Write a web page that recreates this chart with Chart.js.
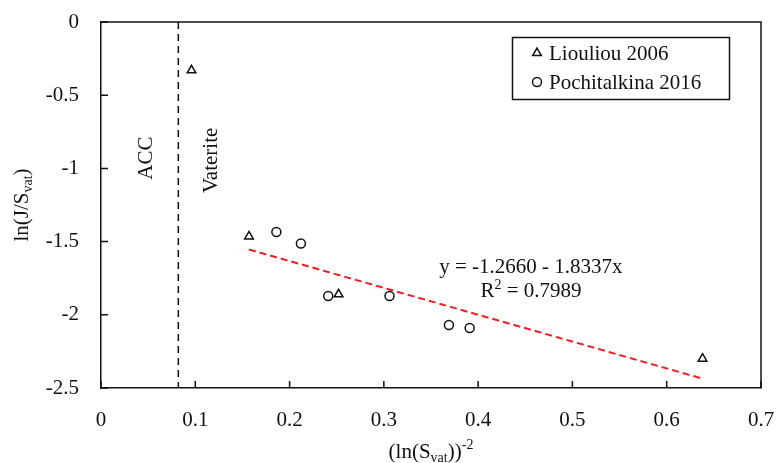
<!DOCTYPE html>
<html>
<head>
<meta charset="utf-8">
<script src="https://cdn.jsdelivr.net/npm/chart.js@4.4.0/dist/chart.umd.min.js"></script>
<style>
  html, body { margin: 0; padding: 0; background: #fff; }
  #wrap { width: 776px; height: 463px; }
</style>
</head>
<body>
<div id="wrap"><canvas id="c" width="776" height="463"></canvas></div>
<script>
// values
const liouliouX = [0.096, 0.157, 0.252, 0.638];
const liouliouY = [-0.33, -1.465, -1.86, -2.30];
const pochX = [0.186, 0.212, 0.241, 0.306, 0.369, 0.391];
const pochY = [-1.435, -1.513, -1.872, -1.872, -2.07, -2.09];
const fitX = [0.157, 0.638];
const fitY = [-1.554, -2.436];
const boundaryX = [0.082, 0.082];
const boundaryY = [0, -2.5];

const xTicks = [0, 0.1, 0.2, 0.3, 0.4, 0.5, 0.6, 0.7];
const xTickLabels = ['0', '0.1', '0.2', '0.3', '0.4', '0.5', '0.6', '0.7'];
const yTicks = [0, -0.5, -1, -1.5, -2, -2.5];
const yTickLabels = ['0', '-0.5', '-1', '-1.5', '-2', '-2.5'];

const seriesNames = ['Liouliou 2006', 'Pochitalkina 2016'];
const fitEquation = 'y = -1.2660 - 1.8337x';
const fitR2 = '0.7989';

const FONT = '"Liberation Serif", "Times New Roman", serif';
const INK = '#111';
const RED = '#f02020';

const pts = (xs, ys) => xs.map((x, i) => ({ x: x, y: ys[i] }));

function richText(ctx, parts, cx, base) {
  let w = 0;
  parts.forEach(p => { ctx.font = p.s + 'px ' + FONT; w += ctx.measureText(p.t).width; });
  let x = cx - w / 2;
  ctx.textAlign = 'left';
  ctx.textBaseline = 'alphabetic';
  parts.forEach(p => {
    ctx.font = p.s + 'px ' + FONT;
    ctx.fillText(p.t, x, base + (p.dy || 0));
    x += ctx.measureText(p.t).width;
  });
}

const extras = {
  id: 'extras',
  afterDraw(chart) {
    const ctx = chart.ctx;
    const a = chart.chartArea;
    const xs = chart.scales.x, ys = chart.scales.y;
    ctx.save();
    ctx.strokeStyle = INK;
    ctx.fillStyle = INK;
    ctx.lineWidth = 1.5;

    // frame top/right
    ctx.beginPath();
    ctx.moveTo(a.left, a.top);
    ctx.lineTo(a.right, a.top);
    ctx.lineTo(a.right, a.bottom);
    ctx.stroke();

    // inward ticks
    ctx.beginPath();
    xTicks.forEach(v => {
      const px = xs.getPixelForValue(v);
      ctx.moveTo(px, a.bottom);
      ctx.lineTo(px, a.bottom - 7);
    });
    yTicks.forEach(v => {
      const py = ys.getPixelForValue(v);
      ctx.moveTo(a.left, py);
      ctx.lineTo(a.left + 7, py);
    });
    ctx.stroke();

    // axis titles
    ctx.save();
    ctx.translate(21, (a.top + a.bottom) / 2);
    ctx.rotate(-Math.PI / 2);
    richText(ctx, [{ t: 'ln(J/S', s: 21 }, { t: 'vat', s: 14, dy: 4 }, { t: ')', s: 21 }], 0, 7);
    ctx.restore();
    richText(ctx, [{ t: '(ln(S', s: 21 }, { t: 'vat', s: 14, dy: 4 }, { t: '))', s: 21 },
      { t: '-2', s: 14, dy: -9 }], (a.left + a.right) / 2, 458);

    // region labels
    [['ACC', 0.047, -0.93], ['Vaterite', 0.116, -0.945]].forEach(r => {
      ctx.save();
      ctx.translate(xs.getPixelForValue(r[1]), ys.getPixelForValue(r[2]));
      ctx.rotate(-Math.PI / 2);
      richText(ctx, [{ t: r[0], s: 21 }], 0, 7);
      ctx.restore();
    });

    // fit equation
    const ex = xs.getPixelForValue(0.456);
    richText(ctx, [{ t: fitEquation, s: 21 }], ex, ys.getPixelForValue(-1.67) + 7);
    richText(ctx, [{ t: 'R', s: 21 }, { t: '2', s: 14, dy: -8 }, { t: ' = ' + fitR2, s: 21 }],
      ex, ys.getPixelForValue(-1.83) + 7);

    // legend
    ctx.lineWidth = 1.5;
    ctx.strokeRect(512.5, 37.5, 217, 62);
    const styles = ['triangle', 'circle'];
    const radii = [5, 4.5];
    [53, 82].forEach((y, i) => {
      ctx.fillStyle = 'rgba(0,0,0,0)';
      Chart.helpers.drawPoint(ctx, { pointStyle: styles[i], radius: radii[i], borderWidth: 1.5, rotation: 0 }, 537, y);
      ctx.fillStyle = INK;
      ctx.font = '21px ' + FONT;
      ctx.textAlign = 'left';
      ctx.textBaseline = 'alphabetic';
      ctx.fillText(seriesNames[i], 549, y + 7);
    });
    ctx.restore();
  }
};

new Chart(document.getElementById('c'), {
  type: 'scatter',
  data: {
    datasets: [
      {
        label: seriesNames[0],
        data: pts(liouliouX, liouliouY),
        pointStyle: 'triangle',
        pointRadius: 5,
        pointBorderWidth: 1.5,
        borderColor: INK,
        backgroundColor: 'rgba(0,0,0,0)'
      },
      {
        label: seriesNames[1],
        data: pts(pochX, pochY),
        pointStyle: 'circle',
        pointRadius: 4.5,
        pointBorderWidth: 1.5,
        borderColor: INK,
        backgroundColor: 'rgba(0,0,0,0)'
      },
      {
        label: 'fit',
        data: pts(fitX, fitY),
        showLine: true,
        borderColor: RED,
        borderWidth: 2,
        borderDash: [7, 4],
        pointRadius: 0
      },
      {
        label: 'boundary',
        data: pts(boundaryX, boundaryY),
        showLine: true,
        borderColor: INK,
        borderWidth: 1.5,
        borderDash: [7, 5],
        pointRadius: 0
      }
    ]
  },
  options: {
    responsive: false,
    animation: false,
    events: [],
    layout: { padding: { top: 22, right: 15, left: 0, bottom: 0 } },
    plugins: { legend: { display: false }, tooltip: { enabled: false } },
    scales: {
      x: {
        type: 'linear',
        min: 0,
        max: 0.7,
        afterBuildTicks: s => { s.ticks = xTicks.map(v => ({ value: v })); },
        afterFit: s => { s.height = 75; s.paddingLeft = 0; s.paddingRight = 0; },
        grid: { display: false, drawTicks: false },
        border: { display: true, color: INK, width: 1.5 },
        ticks: {
          padding: 20,
          color: INK,
          font: { family: FONT, size: 21 },
          maxRotation: 0,
          callback: (v, i) => xTickLabels[i]
        }
      },
      y: {
        type: 'linear',
        min: -2.5,
        max: 0,
        afterBuildTicks: s => { s.ticks = yTicks.map(v => ({ value: v })); },
        afterFit: s => { s.width = 101; s.paddingTop = 0; s.paddingBottom = 0; },
        grid: { display: false, drawTicks: false },
        border: { display: true, color: INK, width: 1.5 },
        ticks: {
          padding: 22,
          color: INK,
          font: { family: FONT, size: 21 },
          callback: v => yTickLabels[yTicks.indexOf(v)]
        }
      }
    }
  },
  plugins: [extras]
});
</script>
</body>
</html>
